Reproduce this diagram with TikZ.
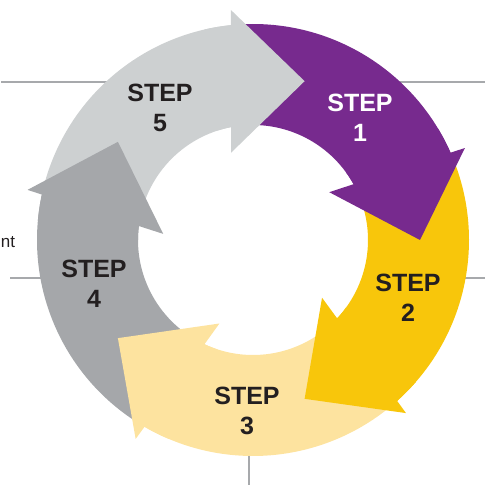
\documentclass[tikz,border=0pt]{standalone}
\usepackage{fontspec}
\setmainfont{Liberation Sans}
\definecolor{cpurple}{HTML}{772A8E}
\definecolor{cyellow}{HTML}{F8C60B}
\definecolor{clyellow}{HTML}{FDE39F}
\definecolor{cgray}{HTML}{A5A7AA}
\definecolor{clgray}{HTML}{CDD0D1}
\definecolor{cline}{HTML}{A7A9AC}
\definecolor{ctext}{HTML}{231F20}
\tikzset{
  guide/.style={draw=cline, line width=2.8pt},
  steplabel/.style={align=center, inner sep=0pt, text=ctext,
    font=\fontsize{25}{30}\selectfont\bfseries},
}
\begin{document}
\begin{tikzpicture}[x=1pt,y=1pt]
\useasboundingbox (0,0) rectangle (485,485);
\coordinate (O) at (253,245);
% guide lines
\coordinate (l1a) at (1,403);   \coordinate (l1b) at (200,403);
\coordinate (l2a) at (300,403); \coordinate (l2b) at (485,403);
\coordinate (l3a) at (10,207);  \coordinate (l3b) at (90,207);
\coordinate (l4a) at (420,207); \coordinate (l4b) at (485,207);
\coordinate (l5a) at (249,85);  \coordinate (l5b) at (249,0);
\draw[guide] (l1a) -- (l1b);
\draw[guide] (l2a) -- (l2b);
\draw[guide] (l3a) -- (l3b);
\draw[guide] (l4a) -- (l4b);
\draw[guide] (l5a) -- (l5b);
\node[anchor=base west, inner sep=0pt, text=ctext, font=\fontsize{17}{20}\selectfont] (nt) at (0.6,237) {nt};
% arrow bodies
\foreach \k/\c in {0/cpurple,1/cyellow,2/clyellow,3/cgray,4/clgray}{
  \begin{scope}[shift={(O)}, rotate={-72*\k}]
    \fill[\c] (95.85:216pt) arc[start angle=95.85, end angle=23.85, radius=216pt]
      -- (29.03:115pt) arc[start angle=29.03, end angle=101.03, radius=115pt] -- cycle;
  \end{scope}
}
% arrow heads
\foreach \k/\c in {0/cpurple,1/cyellow,2/clyellow,3/cgray,4/clgray}{
  \begin{scope}[shift={(O)}, rotate={-72*\k}]
    \fill[\c] (23.47:231pt) -- (0:167pt) -- (32.1:90pt) -- (29.03:115pt)
      arc[start angle=29.03, end angle=36, radius=115pt]
      -- (31:216pt) arc[start angle=31, end angle=23.85, radius=216pt] -- cycle;
  \end{scope}
}
% labels
\node[steplabel, text=white] (s1) at (360,367) {STEP\\1};
\node[steplabel] (s2) at (408,187) {STEP\\2};
\node[steplabel] (s3) at (247,74) {STEP\\3};
\node[steplabel] (s4) at (94,201) {STEP\\4};
\node[steplabel] (s5) at (160,377) {STEP\\5};
\end{tikzpicture}
\end{document}
